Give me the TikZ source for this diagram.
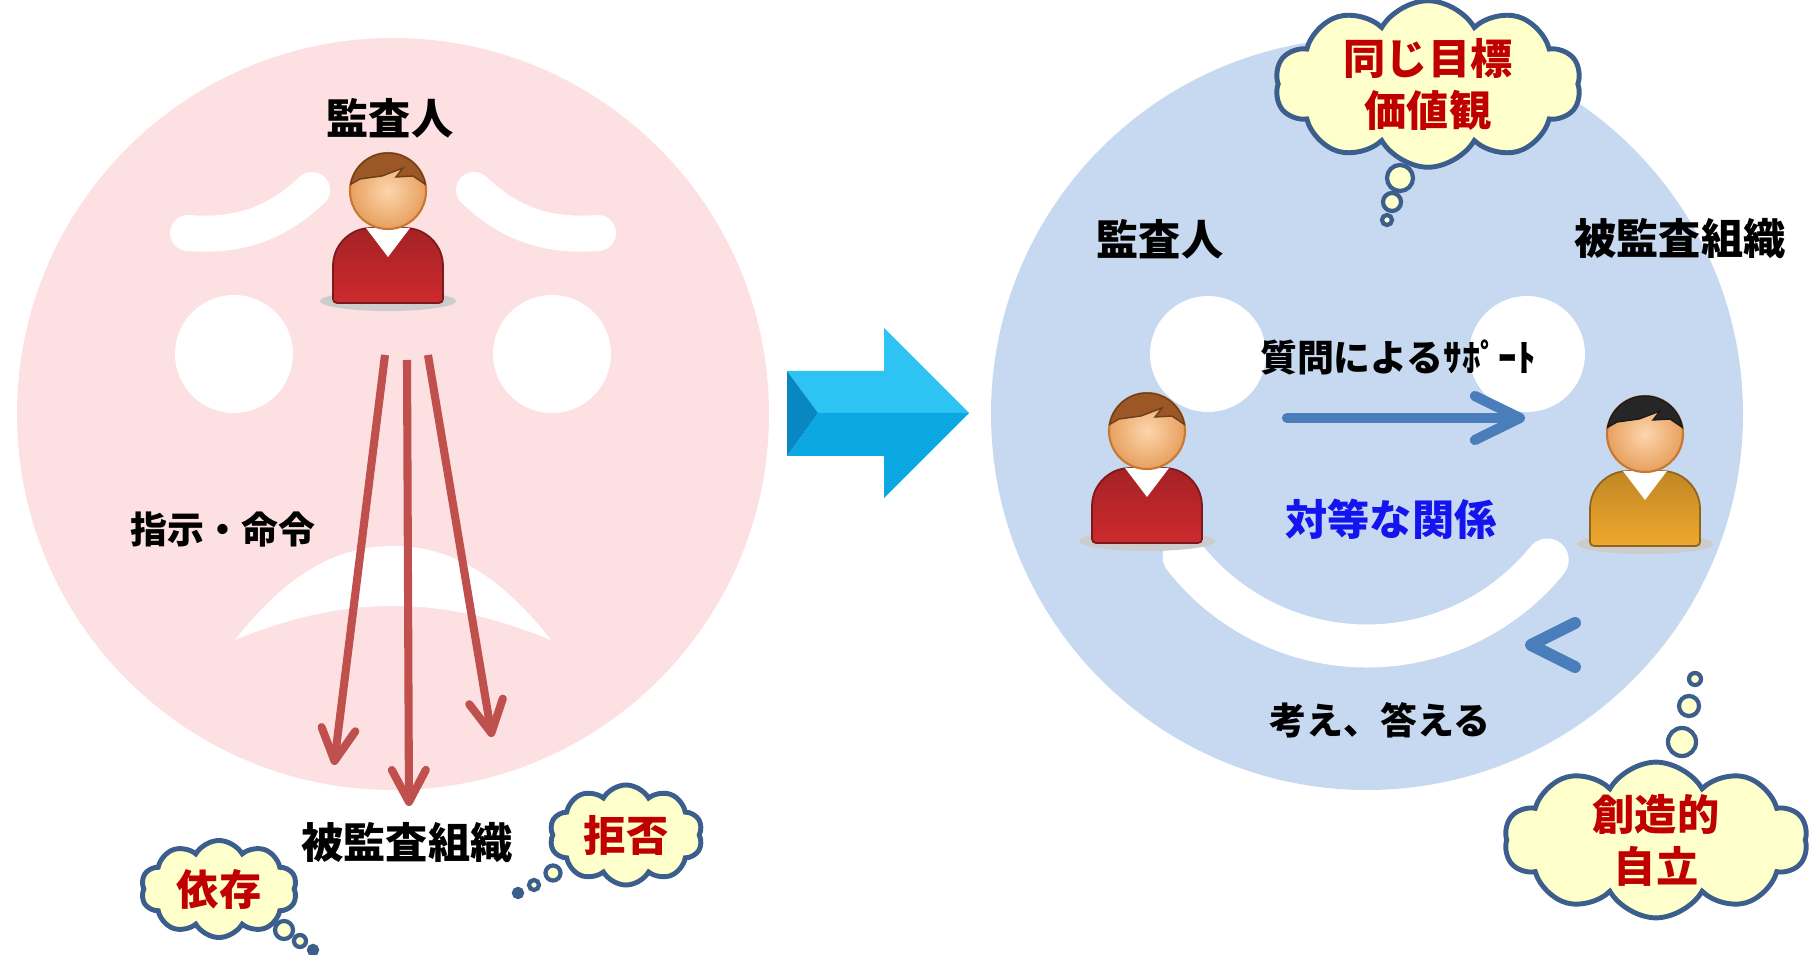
\documentclass[tikz,border=0pt]{standalone}
\usepackage{fontspec}
\setmainfont{Noto Sans CJK JP}
\usetikzlibrary{arrows.meta,shapes.symbols}

\definecolor{pinkFace}{RGB}{253,224,226}
\definecolor{blueFace}{RGB}{198,217,240}
\definecolor{cloudFill}{RGB}{255,255,204}
\definecolor{cloudLine}{RGB}{59,94,140}
\definecolor{thinkRed}{RGB}{192,0,0}
\definecolor{arrowRed}{RGB}{192,80,77}
\definecolor{supportBlue}{RGB}{74,126,187}
\definecolor{equalBlue}{RGB}{20,20,240}
\definecolor{sweaterRed}{RGB}{205,42,46}
\definecolor{sweaterOrange}{RGB}{240,168,45}
\definecolor{hairBrown}{RGB}{155,88,38}
\definecolor{hairBlack}{RGB}{38,38,38}
\definecolor{skinLight}{RGB}{252,214,172}
\definecolor{skinDark}{RGB}{232,160,95}
\definecolor{skinEdge}{RGB}{200,120,50}
\definecolor{arrowTop}{RGB}{45,195,242}
\definecolor{arrowMid}{RGB}{12,168,228}
\definecolor{arrowSide}{RGB}{8,135,195}

\tikzset{pics/person/.style 2 args={code={
  \fill[black!20] (0,110) ellipse[x radius=68,y radius=10];
  \path[top color=#1!80!black,bottom color=#1,draw=#1!60!black,line width=0.5pt]
    [rounded corners=0.04cm] (-55,112) -- (-55,80) [rounded corners=0.38cm] -- (-55,37) -- (55,37)
    [rounded corners=0.04cm] -- (55,112) -- cycle;
  \fill[white] (-22,37) -- (22,37) -- (0,66) -- cycle;
  \path[inner color=skinLight,outer color=skinDark,draw=skinEdge,line width=0.6pt] (0,0) circle[radius=38];
  \fill[#2,draw=#2!70!black,line width=0.4pt] (190:38) arc[start angle=190,end angle=350,radius=38]
    -- (25,-15) -- (8,-14) -- (15,-23) -- (-6,-15) -- (-28,-12) -- cycle;
}}}

\begin{document}
\begin{tikzpicture}[x=0.01cm,y=-0.01cm,
  lbl/.style={font=\bfseries\fontsize{12}{15}\selectfont,inner sep=0},
  small lbl/.style={font=\bfseries\fontsize{10.5}{13}\selectfont,inner sep=0},
  think/.style={cloud,cloud puffs=10,cloud puff arc=120,cloud ignores aspect,draw=cloudLine,fill=cloudFill,
    line width=1.4pt,text=thinkRed,align=center,font=\bfseries\fontsize{12}{14.8}\selectfont,inner sep=0},
  bubble/.style={circle,draw=cloudLine,fill=cloudFill,line width=1.2pt,inner sep=0},
  order/.style={arrowRed,line width=2.3pt,-{Straight Barb[length=3.2mm,width=3.4mm,round]}},
  support/.style={supportBlue,line width=2.9pt,line cap=round,line join=round},
  feature/.style={white,line width=0.36cm,line cap=round}]
  \useasboundingbox (0,0) rectangle (1811,955);

  \fill[pinkFace] (393,414) circle[radius=376];
  \draw[feature] (188,233) .. controls (250,238) and (285,215) .. (312,190);
  \draw[feature] (598,233) .. controls (536,238) and (501,215) .. (474,190);
  \fill[white] (234,354) circle[radius=59];
  \fill[white] (552,354) circle[radius=59];
  \fill[white] (235,640) .. controls (290,570) and (340,546) .. (393,546) .. controls (446,546) and (496,570) .. (551,640)
    .. controls (490,615) and (440,606) .. (393,606) .. controls (346,606) and (296,615) .. cycle;

  \node[lbl] (auditorL) at (390,118) {監査人};
  \pic at (388,191) {person={sweaterRed}{hairBrown}};
  \node[lbl] (orgL) at (407,843) {被監査組織};
  \node[small lbl] (command) at (223,530) {指示・命令};

  \coordinate (o1) at (385,355);
  \coordinate (o2) at (407,360);
  \coordinate (o3) at (428,355);
  \coordinate (d1) at (334,765);
  \coordinate (d2) at (409,806);
  \coordinate (d3) at (492,737);
  \path[order] (o1) edge (d1) (o2) edge (d2) (o3) edge (d3);

  \node[think,minimum width=1.56cm,minimum height=0.97cm] (depend) at (219,889) {依存};
  \node[bubble,minimum size=0.18cm] (dp1) at (284,930) {};
  \node[bubble,minimum size=0.12cm] (dp2) at (300,941) {};
  \node[bubble,minimum size=0.08cm,fill=cloudLine] (dp3) at (313,950) {};

  \node[think,minimum width=1.53cm,minimum height=1cm] (refuse) at (626,835) {拒否};
  \node[bubble,minimum size=0.15cm] (rf1) at (553,873) {};
  \node[bubble,minimum size=0.1cm] (rf2) at (534,885) {};
  \node[bubble,minimum size=0.08cm,fill=cloudLine] (rf3) at (518,893) {};

  \fill[arrowTop] (787,371) -- (884,371) -- (884,328) -- (969,413) -- (913,413) -- (818,413) -- cycle;
  \fill[arrowMid] (787,456) -- (884,456) -- (884,498) -- (969,413) -- (913,413) -- (818,413) -- cycle;
  \fill[arrowSide] (787,371) -- (818,413) -- (787,456) -- cycle;

  \fill[blueFace] (1367,414) circle[radius=376];
  \fill[white] (1208,354) circle[radius=58];
  \fill[white] (1527,354) circle[radius=58];
  \draw[white,line width=0.43cm,line cap=round] (1367,414) ++(142:232) arc[start angle=142,end angle=39,radius=232];

  \node[lbl] (auditorR) at (1160,239) {監査人};
  \node[lbl] (orgR) at (1680,239) {被監査組織};
  \pic at (1147,431) {person={sweaterRed}{hairBrown}};
  \pic at (1645,434) {person={sweaterOrange}{hairBlack}};

  \node[small lbl] (question) at (1398,357) {質問によるｻﾎﾟｰﾄ};
  \coordinate (q1) at (1287,418);
  \coordinate (q2) at (1525,418);
  \draw[support,-{Straight Barb[length=4.5mm,width=4.4mm,round]}] (q1) -- (q2);
  \node[lbl,text=equalBlue] (equal) at (1391,519) {対等な関係};

  \coordinate (a1) at (1575,623);
  \coordinate (a2) at (1531,645);
  \coordinate (a3) at (1575,667);
  \draw[support,line width=3.4pt] (a1) -- (a2) -- (a3);
  \node[small lbl] (answer) at (1380,720) {考え、答える};

  \node[think,minimum width=3.06cm,minimum height=1.56cm] (goal) at (1428,84) {同じ目標\\価値観};
  \node[bubble,minimum size=0.26cm] (gl1) at (1400,178) {};
  \node[bubble,minimum size=0.18cm] (gl2) at (1392,202) {};
  \node[bubble,minimum size=0.1cm] (gl3) at (1387,220) {};

  \node[think,minimum width=3.03cm,minimum height=1.53cm] (autonomy) at (1656,840) {創造的\\自立};
  \node[bubble,minimum size=0.28cm] (au1) at (1682,742) {};
  \node[bubble,minimum size=0.2cm] (au2) at (1689,706) {};
  \node[bubble,minimum size=0.12cm] (au3) at (1695,679) {};
\end{tikzpicture}
\end{document}
